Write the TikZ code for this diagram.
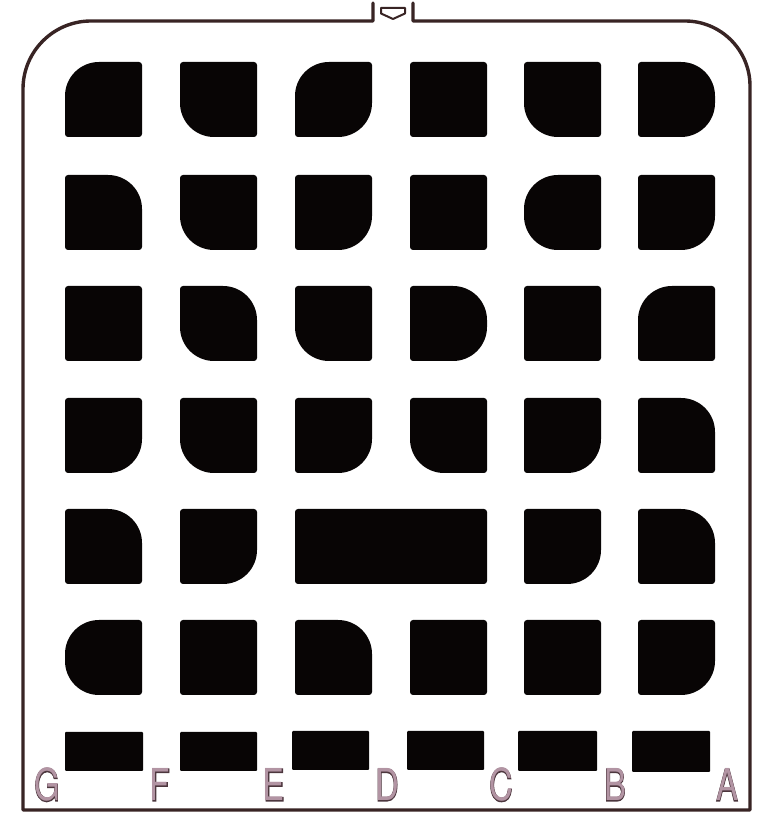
\documentclass[tikz,border=0pt]{standalone}
\usepackage{fontspec}
\newfontfamily\lblfont{TeX Gyre Heros}
\newfontfamily\lblfontout[FakeBold=2.5]{TeX Gyre Heros}
\definecolor{wallc}{rgb}{0.22,0.14,0.14}
\definecolor{blockc}{rgb}{0.03,0.02,0.02}
\definecolor{lblfill}{rgb}{0.70,0.58,0.64}
\definecolor{lblline}{rgb}{0.30,0.21,0.24}
% #1 left x, #2 top y (pixels from top), #3 width, #4 height, #5 TL, #6 TR, #7 BR, #8 BL radii
\newcommand\blockshape[8]{%
  \fill[blockc] (#1+#5, 840-#2) -- (#1+#3-#6, 840-#2)
    arc[start angle=90, end angle=0, radius=#6]
    -- (#1+#3, 840-#2-#4+#7)
    arc[start angle=0, end angle=-90, radius=#7]
    -- (#1+#8, 840-#2-#4)
    arc[start angle=-90, end angle=-180, radius=#8]
    -- (#1, 840-#2-#5)
    arc[start angle=180, end angle=90, radius=#5]
    -- cycle;}
\def\R{34}
\def\s{3}
\def\W{77}
\def\H{75}
\def\ca{65}\def\cb{180}\def\cc{295}\def\cd{410}\def\ce{524}\def\cf{638}
\def\ra{62}\def\rb{175}\def\rc{286}\def\rd{398}\def\re{509}\def\rf{620}
\tikzset{
  wall/.style={draw=wallc, line width=3.4pt, line join=round, line cap=round},
  lblout/.style={anchor=base, inner sep=0pt, xscale=0.75, text=lblline, font=\lblfontout\fontsize{44}{44}\selectfont},
  lblin/.style={anchor=base, inner sep=0pt, xscale=0.75, text=lblfill, font=\lblfont\fontsize{44}{44}\selectfont},
  arrowmark/.style={draw=wallc, line width=2pt, fill=white, line join=round}
}
\begin{document}
\begin{tikzpicture}[x=1pt,y=1pt]
\useasboundingbox (0,0) rectangle (772,840);
% outer wall
\coordinate (gateL) at (373,837);
\coordinate (gateR) at (413,837);
\draw[wall] (gateL) -- (373,819) -- (91,819) arc[start angle=90, end angle=180, radius=68]
  -- (23,30) -- (750,30) -- (750,754) arc[start angle=0, end angle=90, radius=65] -- (413,819) -- (gateR);
% entry arrow
\draw[arrowmark] (381,832) -- (405,832) -- (405,826.5) -- (393,821) -- (381,826.5) -- cycle;
% row 1
\blockshape{\ca}{\ra}{\W}{\H}{\R}{\s}{\s}{\s}
\blockshape{\cb}{\ra}{\W}{\H}{\s}{\s}{\s}{\R}
\blockshape{\cc}{\ra}{\W}{\H}{\R}{\s}{\R}{\s}
\blockshape{\cd}{\ra}{\W}{\H}{\s}{\s}{\s}{\s}
\blockshape{\ce}{\ra}{\W}{\H}{\s}{\s}{\s}{\R}
\blockshape{\cf}{\ra}{\W}{\H}{\s}{\R}{\R}{\s}
% row 2
\blockshape{\ca}{\rb}{\W}{\H}{\s}{\R}{\s}{\s}
\blockshape{\cb}{\rb}{\W}{\H}{\s}{\s}{\s}{\R}
\blockshape{\cc}{\rb}{\W}{\H}{\s}{\s}{\R}{\s}
\blockshape{\cd}{\rb}{\W}{\H}{\s}{\s}{\s}{\s}
\blockshape{\ce}{\rb}{\W}{\H}{\R}{\s}{\s}{\R}
\blockshape{\cf}{\rb}{\W}{\H}{\s}{\s}{\R}{\s}
% row 3
\blockshape{\ca}{\rc}{\W}{\H}{\s}{\s}{\s}{\s}
\blockshape{\cb}{\rc}{\W}{\H}{\s}{\R}{\s}{\R}
\blockshape{\cc}{\rc}{\W}{\H}{\s}{\s}{\s}{\R}
\blockshape{\cd}{\rc}{\W}{\H}{\s}{\R}{\R}{\s}
\blockshape{\ce}{\rc}{\W}{\H}{\s}{\s}{\s}{\s}
\blockshape{\cf}{\rc}{\W}{\H}{\R}{\s}{\s}{\s}
% row 4
\blockshape{\ca}{\rd}{\W}{\H}{\s}{\s}{\R}{\s}
\blockshape{\cb}{\rd}{\W}{\H}{\s}{\s}{\s}{\R}
\blockshape{\cc}{\rd}{\W}{\H}{\s}{\s}{\R}{\s}
\blockshape{\cd}{\rd}{\W}{\H}{\s}{\s}{\s}{\R}
\blockshape{\ce}{\rd}{\W}{\H}{\s}{\s}{\R}{\s}
\blockshape{\cf}{\rd}{\W}{\H}{\s}{\R}{\s}{\s}
% row 5
\blockshape{\ca}{\re}{\W}{\H}{\s}{\R}{\s}{\s}
\blockshape{\cb}{\re}{\W}{\H}{\s}{\s}{\R}{\s}
\blockshape{\cc}{\re}{192}{\H}{\s}{\s}{\s}{\s}
\blockshape{\ce}{\re}{\W}{\H}{\s}{\s}{\R}{\s}
\blockshape{\cf}{\re}{\W}{\H}{\s}{\R}{\s}{\s}
% row 6
\blockshape{\ca}{\rf}{\W}{\H}{\R}{\s}{\s}{\R}
\blockshape{\cb}{\rf}{\W}{\H}{\s}{\s}{\s}{\s}
\blockshape{\cc}{\rf}{\W}{\H}{\s}{\R}{\s}{\s}
\blockshape{\cd}{\rf}{\W}{\H}{\s}{\s}{\s}{\s}
\blockshape{\ce}{\rf}{\W}{\H}{\s}{\s}{\s}{\s}
\blockshape{\cf}{\rf}{\W}{\H}{\s}{\s}{\R}{\s}
% row 7 bars
\blockshape{65}{732}{78}{39}{1}{1}{1}{1}
\blockshape{180}{732}{77}{39}{1}{1}{1}{1}
\blockshape{292}{731}{77}{39}{1}{1}{1}{1}
\blockshape{407}{731}{77}{39}{1}{1}{1}{1}
\blockshape{518}{731}{79}{40}{1}{1}{1}{1}
\blockshape{632}{731}{78}{41}{1}{1}{1}{1}
% labels
\node[lblout] (Go) at (47,39) {G};  \node[lblin] (G) at (47,39) {G};
\node[lblout] (Fo) at (160,39) {F}; \node[lblin] (F) at (160,39) {F};
\node[lblout] (Eo) at (274,39) {E}; \node[lblin] (E) at (274,39) {E};
\node[lblout] (Do) at (387,39) {D}; \node[lblin] (D) at (387,39) {D};
\node[lblout] (Co) at (501,39) {C}; \node[lblin] (C) at (501,39) {C};
\node[lblout] (Bo) at (615,39) {B}; \node[lblin] (B) at (615,39) {B};
\node[lblout] (Ao) at (727,39) {A}; \node[lblin] (A) at (727,39) {A};
\end{tikzpicture}
\end{document}
